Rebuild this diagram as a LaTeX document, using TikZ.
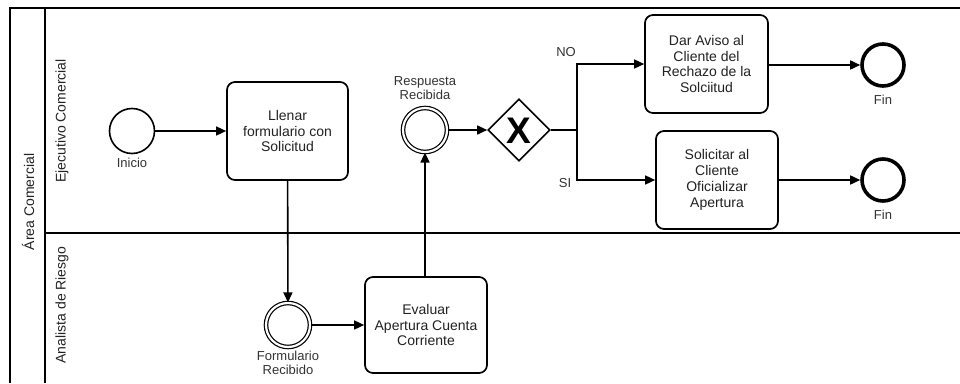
\documentclass[tikz,border=0pt]{standalone}
\usepackage{fontspec}
\setmainfont{Liberation Sans}
\usetikzlibrary{arrows.meta,shapes.geometric}
\definecolor{txt}{HTML}{222222}
\definecolor{lbl}{HTML}{333333}
\tikzset{
  lane/.style={line width=1.4pt, draw=black},
  task/.style={draw=black, line width=1.7pt, rounded corners=8pt, align=center,
    text=txt, font=\fontsize{14}{15.8}\selectfont, inner sep=2pt},
  startev/.style={circle, draw=black, line width=1.6pt, minimum size=45pt, inner sep=0pt},
  endev/.style={circle, draw=black, line width=3.6pt, minimum size=42pt, inner sep=0pt},
  interev/.style={circle, draw=black, line width=1.2pt, minimum size=44pt, inner sep=0pt,
    double=white, double distance=2.2pt},
  gateway/.style={diamond, draw=black, line width=1.6pt, minimum width=62pt, minimum height=62pt, inner sep=0pt},
  evlabel/.style={text=lbl, font=\fontsize{13}{14.5}\selectfont, align=center, inner sep=0pt},
  lanelabel/.style={text=txt, font=\fontsize{14}{16}\selectfont, rotate=90, inner sep=0pt},
  flow/.style={line width=1.6pt, -{Triangle[length=10pt,width=9pt]}},
  flowline/.style={line width=1.6pt},
}
\begin{document}
\begin{tikzpicture}[x=1pt,y=-1pt]
\useasboundingbox[fill=white] (0,0) rectangle (960,383);
% pool and lanes
\draw[lane] (960,8) -- (10,8) -- (10,383);
\draw[lane] (45,8) -- (45,383);
\draw[lane] (45,233) -- (960,233);
\node[lanelabel] (pool) at (28,202) {Área Comercial};
\node[lanelabel] (lane1) at (62,121) {Ejecutivo Comercial};
\node[lanelabel] (lane2) at (62,305) {Analista de Riesgo};
% events
\node[startev] (inicio) at (132,131) {};
\node[evlabel] (inicioL) at (132,163) {Inicio};
\node[task, minimum width=121pt, minimum height=98pt] (llenar) at (287.5,131) {Llenar\\formulario con\\Solicitud};
\node[interev] (form) at (288,325) {};
\node[evlabel] (formL) at (288,363) {Formulario\\Recibido};
\node[task, minimum width=122pt, minimum height=96pt] (evaluar) at (426,325) {Evaluar\\Apertura Cuenta\\Corriente};
\node[interev] (resp) at (425,130) {};
\node[evlabel] (respL) at (425,88) {Respuesta\\Recibida};
\node[gateway] (gw) at (519,130) {};
\node[font=\fontsize{37}{37}\bfseries, inner sep=0pt] (gwx) at (519,131) {X};
\coordinate (split) at (577,130);
\node[task, minimum width=123pt, minimum height=98pt] (dar) at (706.5,64) {Dar Aviso al\\Cliente del\\Rechazo de la\\Solciitud};
\node[task, minimum width=122pt, minimum height=98pt] (sol) at (717,180) {Solicitar al\\Cliente\\Oficializar\\Apertura};
\node[endev] (fin1) at (883,65) {};
\node[evlabel] (fin1L) at (883,100) {Fin};
\node[endev] (fin2) at (883,180) {};
\node[evlabel] (fin2L) at (883,215) {Fin};
\node[evlabel] (noL) at (566,52) {NO};
\node[evlabel] (siL) at (565,183) {SI};
% flows
\draw[flow] (inicio) -- (llenar);
\draw[flow] (llenar) -- (form);
\draw[flow] (form) -- (evaluar);
\draw[flow] (evaluar.north -| resp) -- (resp);
\draw[flow] (resp) -- (gw);
\draw[flowline] (gw.east) -- (split);
\draw[flow] (split) |- (dar.west);
\draw[flow] (split) |- (sol.west);
\draw[flow] (dar.east |- fin1) -- (fin1);
\draw[flow] (sol.east |- fin2) -- (fin2);
\end{tikzpicture}
\end{document}
